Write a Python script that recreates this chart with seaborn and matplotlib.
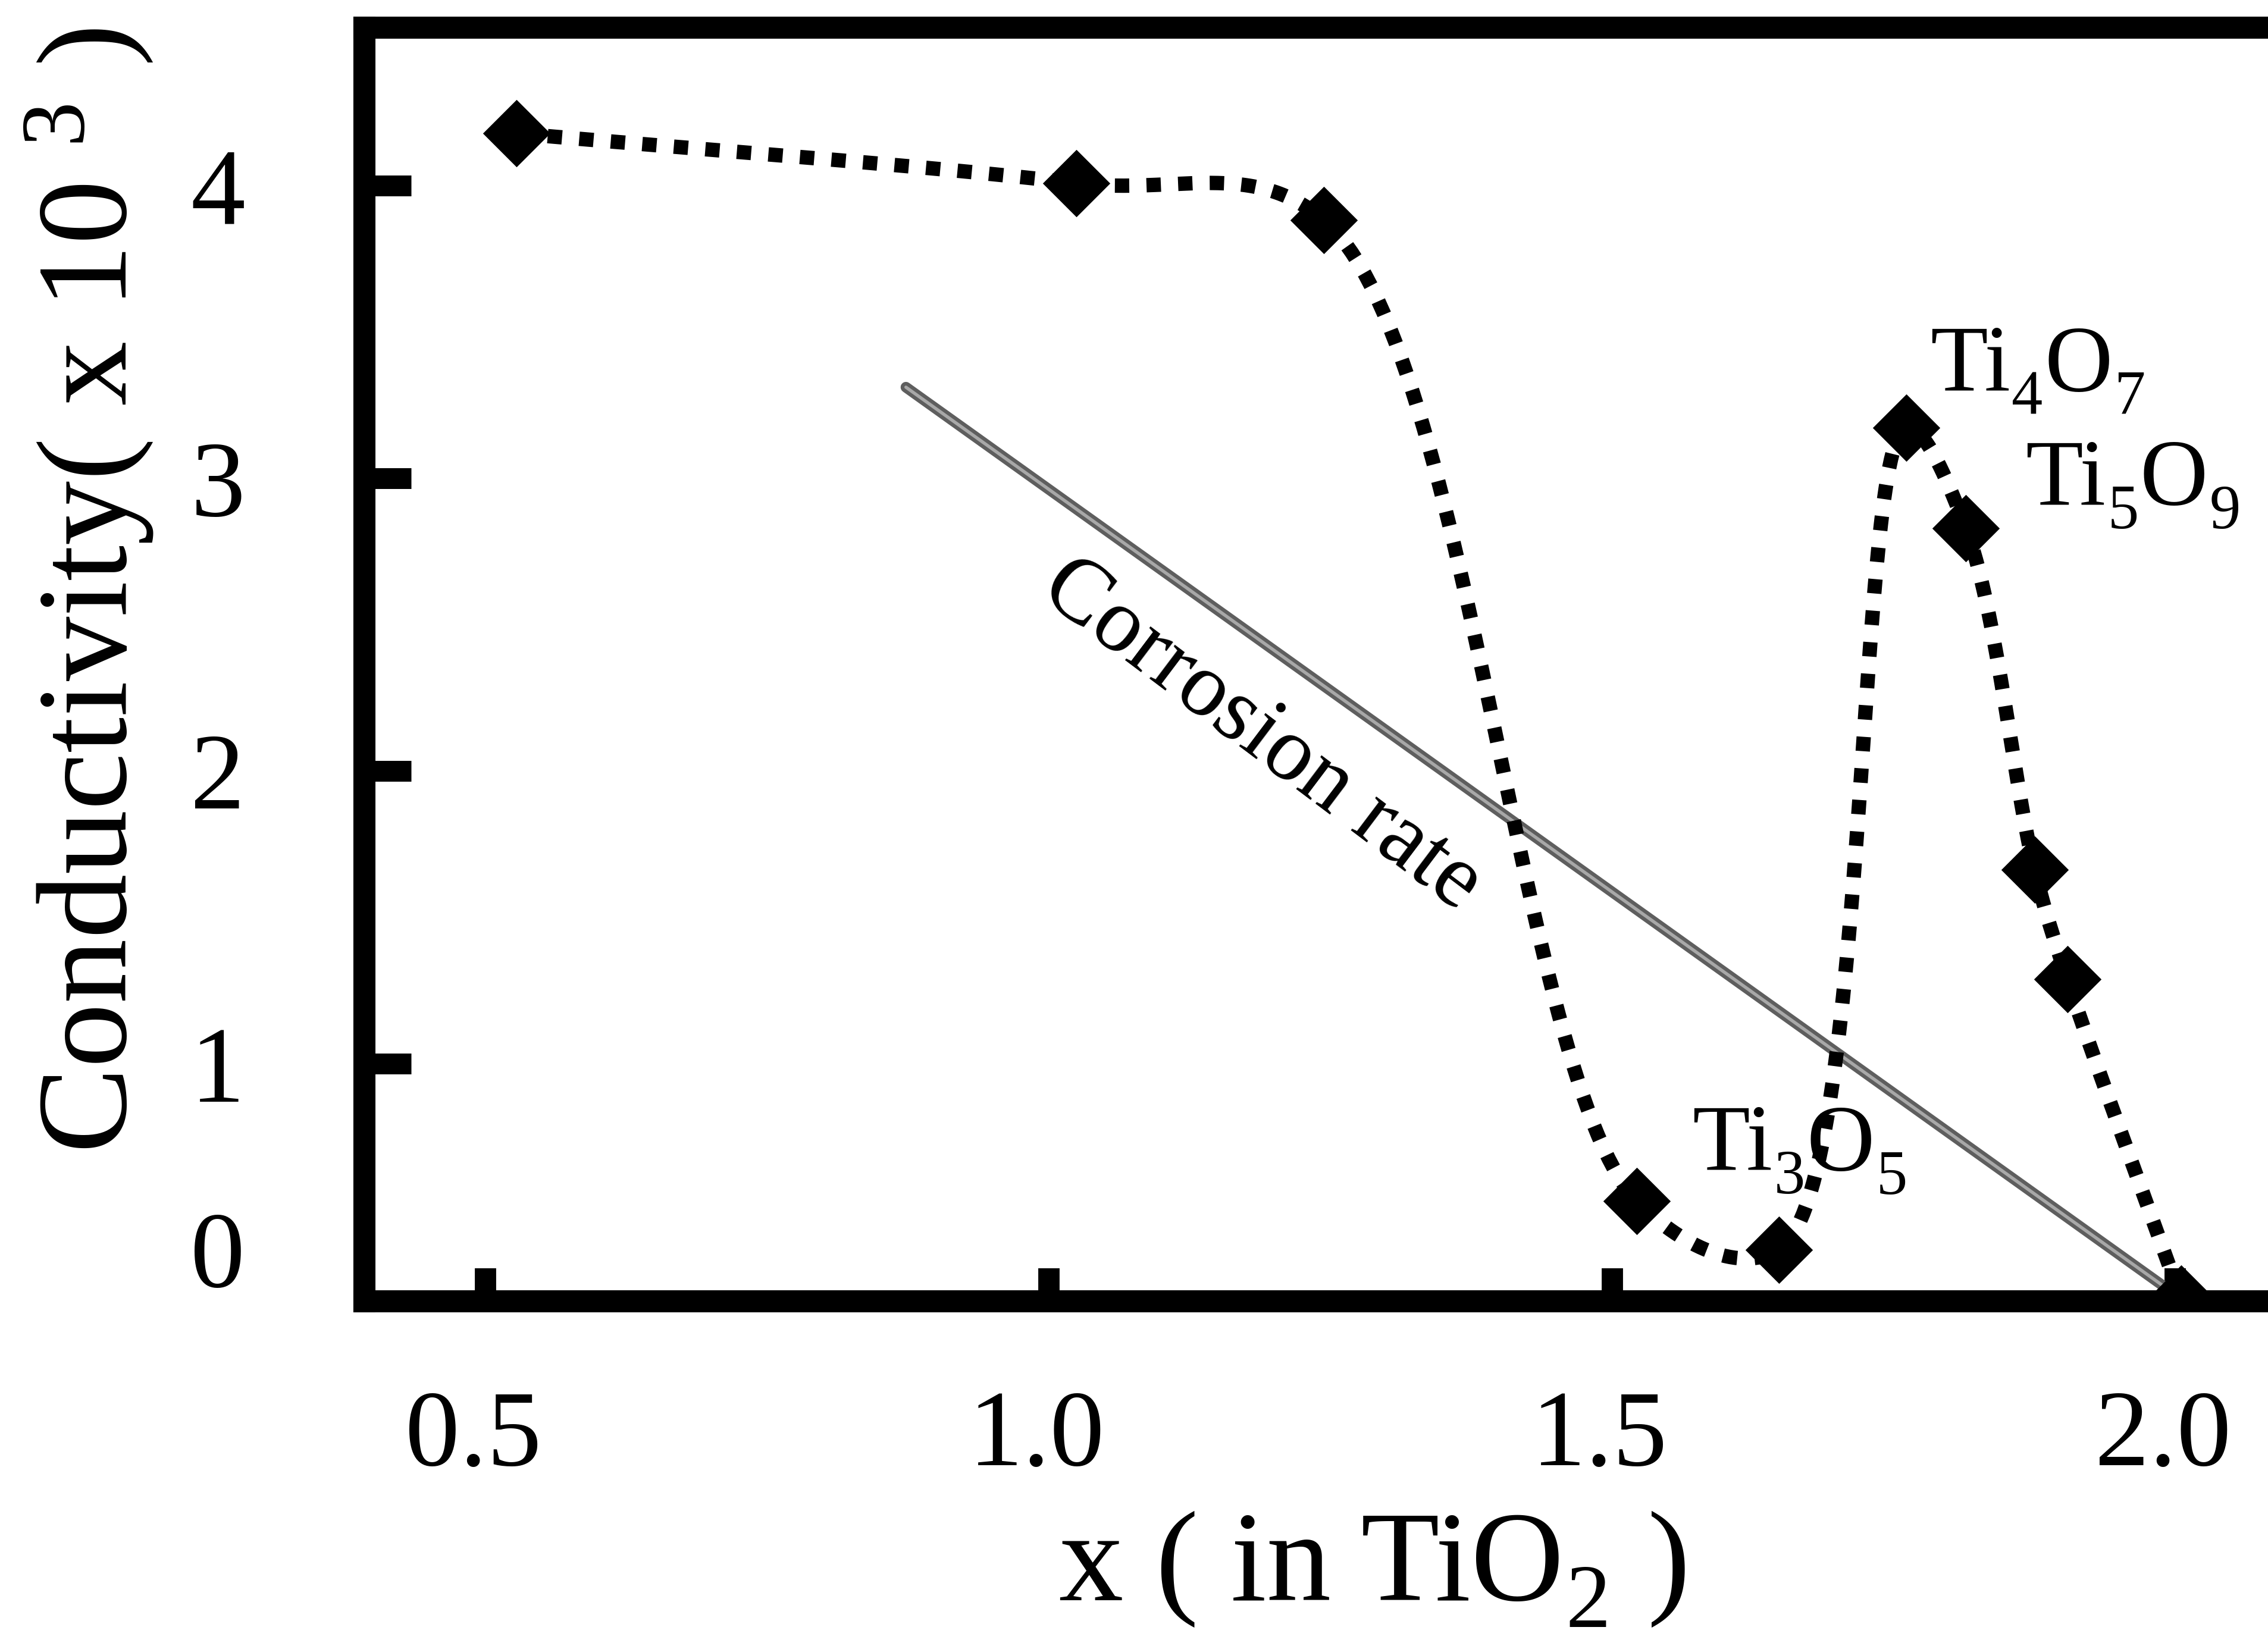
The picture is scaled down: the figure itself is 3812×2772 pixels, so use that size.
import numpy as np
import pandas as pd
import matplotlib
matplotlib.use("Agg")
import matplotlib.pyplot as plt
import matplotlib.transforms as mtransforms
import seaborn as sns

# Conductivity (x 10^3) of TiOx versus oxygen content x
x_content = [0.527, 1.024, 1.244, 1.522, 1.648, 1.761, 1.814, 1.875, 1.904, 2.005]
conductivity = [4.178, 4.008, 3.882, 0.531, 0.365, 3.172, 2.829, 1.663, 1.289, 0.198]

# Straight guide line for the corrosion rate trend
corrosion_x = [0.873, 2.005]
corrosion_y = [3.311, 0.198]

x_ticks = [0.5, 1.0, 1.5, 2.0]
x_tick_labels = ["0.5", "1.0", "1.5", "2.0"]
y_ticks = [1, 2, 3, 4]
y_tick_labels = ["1", "2", "3", "4"]
zero_label_at = 0.367

# phase labels: (text, is_subscript) pieces
phase_labels = [
    [("Ti", False), ("4", True), ("O", False), ("7", True)],
    [("Ti", False), ("5", True), ("O", False), ("9", True)],
    [("Ti", False), ("3", True), ("O", False), ("5", True)],
]
phase_label_x = [1.782, 1.867, 1.571]
phase_label_y = [3.300, 2.910, 0.637]

X_LIM = (0.392, 2.088)
Y_LIM = (0.19, 4.54)

sns.set_theme(style="white")
plt.rcParams["font.family"] = ["Liberation Serif", "DejaVu Serif"]
plt.rcParams["mathtext.fontset"] = "custom"
plt.rcParams["mathtext.rm"] = "Liberation Serif"
plt.rcParams["mathtext.it"] = "Liberation Serif:italic"
plt.rcParams["mathtext.bf"] = "Liberation Serif:bold"

W, H, DPI = 3812, 2772, 300
fig = plt.figure(figsize=(W / DPI, H / DPI), dpi=DPI, facecolor="white")
ax_left, ax_right, ax_bottom, ax_top = 612, 3823, 2187, 46
ax = fig.add_axes([ax_left / W, (H - ax_bottom) / H,
                   (ax_right - ax_left) / W, (ax_bottom - ax_top) / H])
ax.set_facecolor("white")
ax.set_xlim(*X_LIM)
ax.set_ylim(*Y_LIM)


def centripetal_spline(xs, ys, sx, sy, n=60, alpha=0.5):
    """Smooth connector through the measured points (centripetal Catmull-Rom,
    evaluated in display-proportional units so the shape is not distorted)."""
    P = np.column_stack([np.asarray(xs) * sx, np.asarray(ys) * sy])
    ext = np.vstack([2 * P[0] - P[1], P, 2 * P[-1] - P[-2]])
    pieces = []
    for i in range(1, len(ext) - 2):
        p0, p1, p2, p3 = ext[i - 1], ext[i], ext[i + 1], ext[i + 2]
        t0 = 0.0
        t1 = t0 + np.linalg.norm(p1 - p0) ** alpha
        t2 = t1 + np.linalg.norm(p2 - p1) ** alpha
        t3 = t2 + np.linalg.norm(p3 - p2) ** alpha
        t = np.linspace(t1, t2, n, endpoint=False)[:, None]
        a1 = (t1 - t) / (t1 - t0) * p0 + (t - t0) / (t1 - t0) * p1
        a2 = (t2 - t) / (t2 - t1) * p1 + (t - t1) / (t2 - t1) * p2
        a3 = (t3 - t) / (t3 - t2) * p2 + (t - t2) / (t3 - t2) * p3
        b1 = (t2 - t) / (t2 - t0) * a1 + (t - t0) / (t2 - t0) * a2
        b2 = (t3 - t) / (t3 - t1) * a2 + (t - t1) / (t3 - t1) * a3
        c = (t2 - t) / (t2 - t1) * b1 + (t - t1) / (t2 - t1) * b2
        pieces.append(c)
    pieces.append(P[-1:])
    pts = np.vstack(pieces)
    return pts[:, 0] / sx, pts[:, 1] / sy


def chem_text(ax, x, y, pieces, size, sub_scale, drop_em, descent=0.216, **kw):
    """Formula label built from pieces so subscripts sit well below the baseline."""
    txt0, _ = pieces[0]
    prev = ax.text(x, y, txt0, fontsize=size, ha="left", va="baseline", **kw)
    prev_sub = False
    for txt, is_sub in pieces[1:]:
        fs_prev = size * sub_scale if prev_sub else size
        fs = size * sub_scale if is_sub else size
        base_prev = -drop_em * size if prev_sub else 0.0
        base_new = -drop_em * size if is_sub else 0.0
        dy = base_new - (base_prev - descent * fs_prev)
        prev = ax.annotate(txt, xy=(1, 0), xycoords=prev, xytext=(0.6, dy),
                           textcoords="offset points", fontsize=fs,
                           ha="left", va="baseline", **kw)
        prev_sub = is_sub
    return prev


sx = (ax_right - ax_left) / (X_LIM[1] - X_LIM[0])
sy = (ax_bottom - ax_top) / (Y_LIM[1] - Y_LIM[0])
cx, cy = centripetal_spline(x_content, conductivity, sx, sy)
curve = pd.DataFrame({"x": cx, "y": cy})

# corrosion-rate guide line (grey, slightly textured look)
corr = pd.DataFrame({"x": corrosion_x, "y": corrosion_y})
sns.lineplot(data=corr, x="x", y="y", color="#5e5e5e", linewidth=4.3,
             ax=ax, zorder=2, legend=False)
sns.lineplot(data=corr, x="x", y="y", color="#a8a8a8", linewidth=1.3,
             ax=ax, zorder=2.1, legend=False)

# dotted smooth connector
sns.lineplot(data=curve, x="x", y="y", sort=False, estimator=None,
             color="black", linewidth=5.8, ax=ax, zorder=2.2, legend=False)
dotted = ax.get_lines()[-1]
dotted.set_linestyle((0, (1.0, 1.2)))
dotted.set_dash_capstyle("butt")

# measured points
sns.scatterplot(x=x_content, y=conductivity, marker="D", s=370, color="black",
                edgecolor="black", linewidth=0, ax=ax, zorder=3, legend=False)

# corrosion label along the guide line
ax.text(1.189, 2.122, "Corrosion rate", fontsize=37, rotation=-37,
        rotation_mode="anchor", ha="center", va="center", color="black", zorder=4)

# phase labels
for pieces, lx, ly in zip(phase_labels, phase_label_x, phase_label_y):
    chem_text(ax, lx, ly, pieces, size=38, sub_scale=0.66, drop_em=0.25,
              color="black", zorder=4)

# frame
for sp in ax.spines.values():
    sp.set_visible(True)
    sp.set_color("black")
    sp.set_linewidth(8.9)

ax.set_xticks(x_ticks, labels=x_tick_labels)
ax.set_yticks(y_ticks, labels=y_tick_labels)
ax.set_yticks([zero_label_at], labels=["0"], minor=True)
ax.tick_params(axis="x", which="major", direction="in", length=13.3, width=8.6,
               pad=36, labelsize=44, bottom=True, top=False, colors="black")
ax.tick_params(axis="y", which="major", direction="in", length=19, width=8.4,
               pad=48, labelsize=44, left=True, right=False, colors="black")
ax.tick_params(axis="y", which="minor", direction="in", length=0, width=0,
               pad=48, labelsize=44, left=True, right=False, colors="black")
ax.tick_params(axis="x", which="minor", bottom=False)

shift = mtransforms.ScaledTranslation(-5 / 72, 0, fig.dpi_scale_trans)
for lab in ax.get_xticklabels():
    lab.set_transform(lab.get_transform() + shift)

# axis titles
XL_SIZE, XL_SUB, XL_DROP, DESC = 52, 0.70, 0.21, 0.216
ax.set_xlabel("x ( in TiO", fontsize=XL_SIZE, color="black")
ax.xaxis.label.set_horizontalalignment("left")
ax.xaxis.label.set_verticalalignment("baseline")
ax.xaxis.set_label_coords((1780 - ax_left) / (ax_right - ax_left),
                          (ax_bottom - 2690) / (ax_bottom - ax_top))
sub2 = ax.annotate("2", xy=(1, 0), xycoords=ax.xaxis.label,
                   xytext=(0.6, DESC * XL_SIZE - XL_DROP * XL_SIZE),
                   textcoords="offset points", fontsize=XL_SIZE * XL_SUB,
                   ha="left", va="baseline", color="black", annotation_clip=False)
ax.annotate(")", xy=(1, 0), xycoords=sub2,
            xytext=(15, XL_DROP * XL_SIZE + DESC * XL_SIZE * XL_SUB),
            textcoords="offset points", fontsize=XL_SIZE,
            ha="left", va="baseline", color="black", annotation_clip=False)

ax.set_ylabel(r"Conductivity( x 10 $^{3}$ )", fontsize=52, color="black")
ax.yaxis.label.set_verticalalignment("baseline")
ax.yaxis.set_label_coords((212 - ax_left) / (ax_right - ax_left),
                          (ax_bottom - 993) / (ax_bottom - ax_top))
ax.grid(False)

fig.savefig("out.png", dpi=DPI, facecolor="white")
